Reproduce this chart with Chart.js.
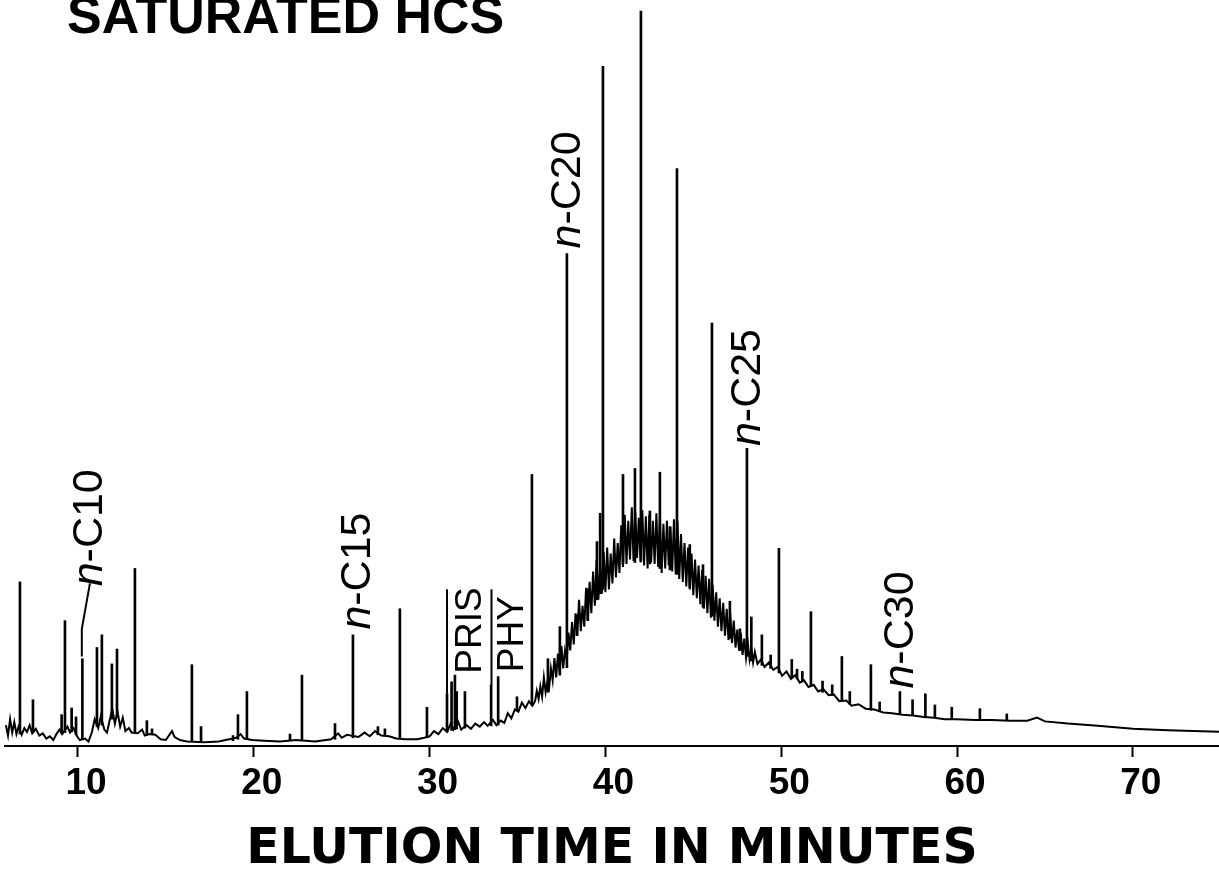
<!DOCTYPE html>
<html>
<head>
<meta charset="utf-8">
<title>Saturated HCS - gas chromatogram</title>
<script src="https://cdn.jsdelivr.net/npm/chart.js@4.4.1/dist/chart.umd.min.js"></script>
<style>
  html, body { margin: 0; padding: 0; background: #fff; }
  #wrap { width: 1219px; height: 876px; }
</style>
</head>
<body>
<div id="wrap"><canvas id="gc-chart" width="1219" height="876"></canvas></div>
<script>
/**
 * Saturated hydrocarbon chromatogram.
 * Signal is in arbitrary units (0-100 of full scale).
 */

// x axis tick labels (minutes)
const timeTicks = [10, 20, 30, 40, 50, 60, 70];

// detector baseline + unresolved hump, with its noise
const traceTime = [
    5.90, 6.02, 6.14, 6.26, 6.38, 6.50, 6.62, 6.80, 6.95, 7.10, 7.25, 7.40, 7.60, 7.80, 8.00, 8.20,
    8.40, 8.60, 8.80, 8.95, 9.10, 9.40, 9.55, 9.75, 9.95, 10.10, 10.40, 10.60, 10.80, 10.95, 11.15, 11.30,
    11.50, 11.65, 11.80, 11.95, 12.10, 12.25, 12.40, 12.55, 12.70, 12.90, 13.05, 13.40, 13.65, 13.80, 14.05, 14.40,
    14.70, 15.00, 15.20, 15.35, 15.50, 15.80, 16.20, 17.20, 18.00, 18.60, 19.00, 19.25, 19.45, 19.90, 20.60, 21.50,
    22.40, 23.50, 24.40, 24.80, 25.00, 25.30, 25.95, 26.30, 26.60, 26.90, 27.25, 27.70, 28.10, 28.60, 29.30, 29.70,
    30.00, 30.25, 30.50, 30.75, 31.00, 31.20, 31.35, 31.60, 31.80, 32.10, 32.35, 32.60, 32.85, 33.10, 33.30, 33.60,
    33.80, 34.05, 34.25, 34.45, 34.65, 34.85, 35.05, 35.25, 35.45, 35.65, 35.85,
    36.0, 36.1, 36.2, 36.3, 36.4, 36.5, 36.6, 36.7, 36.8, 36.9, 37.0, 37.1, 37.2, 37.3, 37.4, 37.5,
    37.6, 37.7, 37.8, 37.9, 38.0, 38.1, 38.2, 38.3, 38.4, 38.5, 38.6, 38.7, 38.8, 38.9, 39.0, 39.1,
    39.2, 39.3, 39.4, 39.5, 39.6, 39.7, 39.8, 39.9, 40.0, 40.1, 40.2, 40.3, 40.4, 40.5, 40.6, 40.7,
    40.8, 40.9, 41.0, 41.1, 41.2, 41.3, 41.4, 41.5, 41.6, 41.7, 41.8, 41.9, 42.0, 42.1, 42.2, 42.3,
    42.4, 42.5, 42.6, 42.7, 42.8, 42.9, 43.0, 43.1, 43.2, 43.3, 43.4, 43.5, 43.6, 43.7, 43.8, 43.9,
    44.0, 44.1, 44.2, 44.3, 44.4, 44.5, 44.6, 44.7, 44.8, 44.9, 45.0, 45.1, 45.2, 45.3, 45.4, 45.5,
    45.6, 45.7, 45.8, 45.9, 46.0, 46.1, 46.2, 46.3, 46.4, 46.5, 46.6, 46.7, 46.8, 46.9, 47.0, 47.1,
    47.2, 47.3, 47.4, 47.5, 47.6, 47.7, 47.8, 47.9, 48.0, 48.1, 48.2, 48.3, 48.4, 48.5,
    48.65, 48.85, 49.05, 49.30, 49.55, 49.80, 50.05, 50.30, 50.55, 50.80, 51.05, 51.30, 51.55, 51.85, 52.10, 52.40,
    52.70, 53.00, 53.30, 53.70, 54.00, 54.40, 54.80, 55.30, 55.80, 56.30, 56.90, 57.50, 58.10, 58.70, 59.30, 60.00,
    61.00, 62.00, 63.00, 64.00, 64.55, 65.00, 66.30, 68.00, 70.00, 72.00, 74.90
];
const traceSignal = [
    2.8, 1.4, 3.6, 1.8, 3.2, 1.6, 2.6, 1.5, 2.4, 1.9, 2.8, 1.7, 2.3, 1.4, 1.7, 1.0,
    1.3, 0.8, 1.7, 2.2, 1.6, 2.6, 1.8, 2.4, 1.3, 0.8, 1.0, 0.6, 1.9, 3.6, 2.4, 4.0,
    2.2, 1.8, 3.4, 5.0, 3.0, 4.6, 2.6, 3.8, 2.0, 2.4, 1.8, 1.7, 2.2, 1.4, 1.6, 1.5,
    0.9, 0.8, 1.5, 2.0, 1.2, 0.8, 0.6, 0.5, 0.6, 0.9, 1.1, 1.6, 1.0, 0.8, 0.7, 0.6,
    0.8, 0.6, 0.9, 1.7, 1.1, 1.5, 1.2, 1.8, 1.3, 2.0, 1.4, 1.3, 1.0, 0.9, 0.9, 1.1,
    1.3, 2.0, 1.6, 2.4, 1.9, 3.0, 2.2, 3.4, 2.2, 2.8, 2.3, 3.0, 2.6, 3.2, 2.7, 3.5,
    2.8, 3.4, 3.1, 4.4, 3.7, 4.9, 4.6, 5.8, 5.1, 6.0, 5.4,
    6.0, 7.4, 6.3, 8.0, 6.6, 9.2, 7.2, 8.6, 7.8, 10.4, 8.8, 11.8, 9.2, 12.4, 9.8, 13.4,
    10.4, 12.8, 11.6, 15.2, 12.8, 16.6, 13.6, 17.8, 14.8, 19.6, 15.4, 18.8, 16.0, 21.2, 16.8, 22.0,
    17.8, 23.4, 18.8, 25.0, 19.6, 24.2, 20.4, 26.0, 20.6, 26.6, 21.0, 25.8, 21.8, 27.8, 22.6, 27.2,
    23.2, 29.6, 24.0, 31.0, 24.4, 30.2, 25.0, 32.0, 24.8, 31.4, 25.2, 30.6, 24.6, 31.6, 24.2, 30.8,
    23.8, 31.0, 24.6, 30.2, 24.4, 31.2, 24.0, 30.6, 23.2, 29.8, 23.8, 30.2, 24.2, 29.4, 23.4, 30.4,
    23.0, 30.2, 22.4, 28.4, 22.0, 27.2, 21.4, 26.6, 21.0, 25.8, 20.2, 25.0, 19.8, 24.2, 19.0, 23.6,
    18.4, 22.8, 17.8, 22.4, 17.2, 21.6, 16.8, 20.6, 16.0, 19.8, 15.4, 19.2, 14.8, 18.4, 14.2, 17.8,
    13.8, 16.8, 13.2, 15.6, 12.8, 15.2, 12.2, 14.4, 11.8, 13.8, 11.6, 13.0, 11.2, 12.6,
    11.0, 11.6, 10.6, 11.2, 10.2, 10.6, 9.4, 10.0, 9.0, 9.5, 8.5, 8.8, 7.9, 8.2, 7.3, 7.6,
    6.8, 6.9, 6.0, 6.1, 5.4, 5.6, 5.0, 4.9, 4.5, 4.4, 4.2, 4.1, 3.9, 3.8, 3.6, 3.6,
    3.5, 3.5, 3.4, 3.4, 3.8, 3.3, 3.0, 2.7, 2.3, 2.1, 1.9
];

// resolved peaks: retention time, foot and apex
const peakTime = [
    6.70, 7.44, 9.07, 9.26, 9.64, 9.89, 10.25, 11.08, 11.36, 11.93, 12.22, 13.24, 13.92, 14.21, 16.48, 17.00,
    18.82, 19.10, 19.61, 22.06, 22.74, 24.62, 25.64, 27.06, 27.46, 28.31, 29.85, 30.99, 31.25, 31.44, 31.54, 32.01,
    33.50, 33.90, 34.97, 35.82, 36.73, 37.41, 37.81, 38.38, 39.00, 39.52, 39.70, 39.86, 41.00, 41.68, 42.02, 42.53,
    43.10, 43.67, 44.07, 44.80, 45.55, 46.06, 47.08, 47.65, 48.05, 48.30, 48.90, 49.40, 49.87, 50.60, 50.90, 51.20,
    51.69, 52.35, 52.90, 53.45, 53.90, 55.10, 55.60, 56.75, 57.47, 58.20, 58.74, 59.70, 61.30, 62.83
];
const peakBase = [
    1.6, 1.8, 1.7, 1.8, 1.9, 1.5, 0.9, 2.6, 2.8, 3.6, 3.8, 1.9, 1.4, 1.5, 0.6, 0.5,
    0.7, 0.9, 1.0, 0.7, 0.7, 0.9, 1.1, 1.5, 1.4, 1.0, 1.2, 1.9, 2.1, 2.2, 2.3, 2.4,
    2.7, 2.8, 4.7, 5.5, 7.2, 9.5, 10.5, 14.8, 16.8, 19.6, 20.4, 21.0, 24.4, 24.6, 24.8, 24.4,
    23.8, 23.6, 23.0, 21.2, 18.6, 17.4, 14.4, 12.8, 12.0, 11.4, 10.8, 10.4, 9.8, 9.1, 9.0, 8.6,
    8.0, 7.2, 6.8, 6.0, 5.6, 4.8, 4.6, 4.2, 4.1, 3.9, 3.8, 3.6, 3.5, 3.5
];
const peakTop = [
    22.0, 6.2, 4.2, 16.8, 5.1, 3.9, 11.7, 13.2, 14.9, 11.0, 13.0, 23.8, 3.4, 2.3, 10.9, 2.6,
    1.4, 4.2, 7.3, 1.6, 9.5, 3.0, 14.9, 2.6, 2.3, 18.4, 5.2, 7.0, 8.6, 9.5, 7.3, 7.3,
    8.2, 9.3, 6.6, 36.4, 11.7, 16.0, 66.0, 17.6, 21.1, 27.4, 31.2, 91.1, 36.4, 37.2, 98.5, 31.5,
    36.7, 29.4, 77.4, 27.0, 24.3, 56.7, 19.4, 15.7, 39.9, 17.3, 14.9, 12.2, 26.5, 11.6, 10.3, 10.0,
    18.0, 8.7, 8.2, 12.0, 7.3, 10.9, 5.9, 7.3, 6.2, 7.0, 5.5, 5.2, 5.0, 4.3
];

// compound names written beside the peaks
const peakNames = ['n-C10', 'n-C15', 'PRIS', 'PHY', 'n-C20', 'n-C25', 'n-C30'];

const FONT = "'Liberation Sans', Arial, Helvetica, sans-serif";
const WIDE_FONT = "'DejaVu Sans', Verdana, sans-serif";

/**
 * Rotated peak names with their leader lines, plus the figure heading.
 * Anchors are in data units (minutes, signal); text runs upward from them.
 */
const peakLabelPlugin = {
    id: 'peakLabels',
    afterDatasetsDraw(chart, args, opts) {
        const { ctx, scales: { x, y } } = chart;
        ctx.save();
        ctx.strokeStyle = '#000';
        ctx.fillStyle = '#000';
        ctx.lineWidth = 2;

        opts.items.forEach((item, i) => {
            if (item.leader) {
                ctx.beginPath();
                item.leader.forEach(([t, s], k) => {
                    const px = x.getPixelForValue(t);
                    const py = y.getPixelForValue(s);
                    if (k === 0) ctx.moveTo(px, py); else ctx.lineTo(px, py);
                });
                ctx.stroke();
            }

            const name = peakNames[i];
            ctx.save();
            ctx.translate(x.getPixelForValue(item.t), y.getPixelForValue(item.s));
            ctx.rotate(-Math.PI / 2);
            ctx.textAlign = 'left';
            ctx.textBaseline = 'alphabetic';
            let dx = 0;
            let rest = name;
            if (name.startsWith('n-')) {
                ctx.font = `italic ${item.size}px ${FONT}`;
                ctx.fillText('n', 0, 0);
                dx = ctx.measureText('n').width;
                rest = name.slice(1);
            }
            ctx.font = `${item.size}px ${FONT}`;
            ctx.fillText(rest, dx, 0);
            ctx.restore();
        });

        // heading, partly cut by the top edge like the scan
        ctx.font = `bold ${opts.headingSize}px ${FONT}`;
        ctx.textAlign = 'left';
        ctx.textBaseline = 'alphabetic';
        ctx.fillText(opts.heading, opts.headingX, opts.headingY);
        ctx.restore();
    }
};

const traceData = traceTime.map((t, i) => ({ x: t, y: traceSignal[i] }));
const peakData = peakTime.map((t, i) => ({ x: t, y: [peakBase[i], peakTop[i]] }));

new Chart(document.getElementById('gc-chart'), {
    type: 'line',
    data: {
        datasets: [
            {
                type: 'bar',
                label: 'Peaks',
                data: peakData,
                backgroundColor: '#000',
                borderWidth: 0,
                barThickness: 2,
                grouped: false
            },
            {
                type: 'line',
                label: 'Trace',
                data: traceData,
                borderColor: '#000',
                borderWidth: 2,
                pointRadius: 0,
                tension: 0,
                fill: false
            }
        ]
    },
    options: {
        responsive: false,
        devicePixelRatio: 1,
        animation: false,
        events: [],
        layout: { padding: { left: 5, right: 0, top: 0, bottom: 0 } },
        scales: {
            x: {
                type: 'linear',
                position: 'bottom',
                min: 5.85,
                max: 74.9,
                offset: false,
                afterBuildTicks: scale => {
                    scale.ticks = timeTicks.map(v => ({ value: v }));
                },
                grid: {
                    drawOnChartArea: false,
                    drawTicks: true,
                    tickLength: 11,
                    tickWidth: 2,
                    tickColor: '#000',
                    offset: false
                },
                border: { display: true, color: '#000', width: 2 },
                ticks: {
                    color: '#000',
                    padding: 8,
                    labelOffset: 8,
                    maxRotation: 0,
                    autoSkip: false,
                    font: { family: FONT, size: 37, weight: 'bold', lineHeight: 1 },
                    callback: v => String(v)
                },
                title: {
                    display: true,
                    text: 'ELUTION TIME IN MINUTES',
                    color: '#000',
                    font: { family: WIDE_FONT, size: 49, weight: 'bold', lineHeight: 1 },
                    padding: { top: 16, bottom: 1 }
                }
            },
            y: {
                display: false,
                min: 0,
                max: 100
            }
        },
        plugins: {
            legend: { display: false },
            tooltip: { enabled: false },
            peakLabels: {
                heading: 'SATURATED HCS',
                headingSize: 52,
                headingX: 67,
                headingY: 33,
                items: [
                    { t: 11.36, s: 21.4, size: 43, leader: [[10.68, 21.8], [10.22, 15.7], [10.22, 12.0]] },
                    { t: 26.61, s: 15.6, size: 43 },
                    { t: 32.92, s: 9.7, size: 37, leader: [[30.99, 21.0], [30.99, 7.0]] },
                    { t: 35.31, s: 9.9, size: 37, leader: [[33.52, 21.0], [33.52, 8.2]] },
                    { t: 38.55, s: 66.7, size: 43 },
                    { t: 48.79, s: 40.2, size: 43 },
                    { t: 57.49, s: 7.7, size: 43 }
                ]
            }
        }
    },
    plugins: [peakLabelPlugin]
});
</script>
</body>
</html>
